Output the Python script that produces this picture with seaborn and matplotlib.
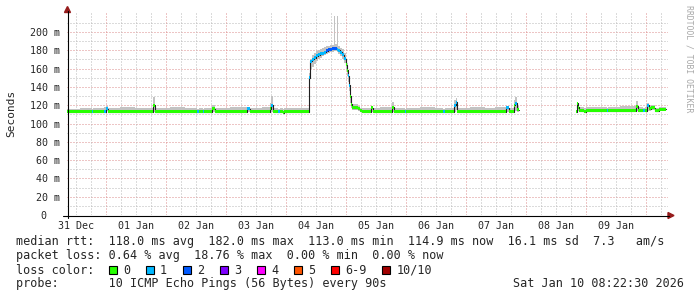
import numpy as np
import pandas as pd
import matplotlib
matplotlib.use("Agg")
import matplotlib.pyplot as plt
import seaborn as sns
from matplotlib.patches import Rectangle, Polygon
from matplotlib.lines import Line2D
from matplotlib.transforms import ScaledTranslation

# ---------------- data ----------------
# step start, hours after 2025-12-31 08:22:30 (graph start); each value holds until the next start
step_start_h = [
    0.0, 5.2, 10.0, 10.4, 14.8, 15.6, 16.4, 21.2, 27.2, 33.2, 34.4, 35.2, 41.2, 47.2,
    52.0, 52.8, 54.4, 54.8, 58.0, 59.2, 65.2, 72.0, 73.2, 78.0, 81.2, 81.6, 82.4, 84.4,
    85.2, 86.4, 86.8, 91.2,
    96.8, 97.2, 98.0, 98.8, 99.6, 100.4, 101.2, 102.0, 102.8, 103.6, 104.4, 105.2, 106.0,
    106.8, 107.2, 108.0, 108.4, 109.2, 110.0, 110.8, 111.6, 112.0, 112.4, 112.8, 113.2,
    113.6, 114.0, 116.4, 117.2, 118.0,
    121.6, 122.4, 125.2, 130.0, 130.8, 135.2, 135.6, 141.2, 147.2, 150.4, 151.2, 154.8,
    155.6, 156.0, 161.2, 167.2, 171.2, 175.6, 176.8, 178.8, 179.2, 180.0, 180.8,
    203.6, 204.0, 204.4, 204.8, 206.8, 207.6, 213.2, 216.0, 216.4, 221.2, 227.6, 228.4,
    230.4, 231.2, 232.0, 232.8, 233.6, 235.2, 236.8, 239.6,
]
median_ms = [
    113, 113, 113, 113, 113, 116, 113, 113, 113, 113, 120, 113, 113, 113,
    113, 113, 113, 113, 116, 113, 113, 116, 113, 113, 116, 120, 113, 113,
    113, 112, 113, 113,
    150, 168, 170, 172, 174, 175, 176, 177, 178, 179.5, 180.5, 181, 181.5,
    182, 182, 181, 180, 178, 175, 171, 164, 158, 152, 142, 130,
    121, 117, 116, 114, 113,
    117, 113, 113, 118, 113, 113, 113, 113, 113, 113, 113, 120,
    123, 113, 113, 113, 113, 117, 113, 120, 122, 115, np.nan,
    113, 122, 118, 114, 113, 114, 114, 114, 114, 114, 119, 114,
    114.5, 114, 120, 116, 117.5, 114, 115.5, np.nan,
]
smoke_lo_ms = [
    113, 113, 113, 113, 113, 114, 113, 113, 113, 113, 113, 113, 113, 113,
    113, 113, 113, 113, 113, 113, 113, 113, 113, 113, 113, 113, 113, 113,
    113, 112, 113, 113,
    142, 160, 162, 165, 168, 170, 172, 174, 175, 176, 177, 178, 178,
    179, 179, 178, 176, 174, 170, 166, 158, 152, 145, 135, 122,
    117, 115, 114, 113, 113,
    113, 113, 113, 113, 113, 113, 113, 113, 113, 113, 113, 113,
    115, 113, 113, 113, 113, 113, 113, 113, 114, 113, np.nan,
    113, 114, 114, 114, 113, 114, 114, 114, 114, 114, 114, 114,
    114, 114, 114, 114, 115, 114, 115, np.nan,
]
smoke_hi_ms = [
    116, 117.5, 116, 117, 118, 119, 117, 118, 116.5, 117.5, 129, 117, 118, 116.5,
    116, 117, 116, 117.5, 120, 117, 118, 118.5, 117, 118, 122, 130, 117, 116,
    117, 116, 117, 117.5,
    155, 171, 175, 177, 179, 180, 181, 182, 184, 185, 185, 186, 186,
    218, 187, 218, 185, 183, 181, 177, 171, 166, 159, 151, 139,
    126, 121, 119, 117, 117,
    119, 117, 118, 124, 117, 116, 117.5, 118, 117, 116, 117, 126,
    128, 117, 118, 117, 118.5, 119, 117, 126, 129, 119, np.nan,
    114, 123, 121, 118, 117, 118, 118.5, 117, 118, 119, 125, 118,
    117, 118, 122, 119, 120, 117, 118, np.nan,
]
loss_level = [
    0, 0, 1, 0, 1, 1, 0, 0, 0, 0, 0, 0, 0, 0,
    1, 0, 1, 0, 0, 0, 0, 1, 0, 0, 0, 1, 0, 1,
    0, 0, 0, 0,
    1, 1, 1, 1, 1, 1, 1, 1, 1, 2, 2, 2, 2,
    2, 2, 1, 1, 1, 1, 1, 0, 0, 1, 1, 0,
    0, 0, 0, 0, 0,
    0, 0, 0, 0, 0, 1, 0, 0, 0, 1, 0, 1,
    1, 0, 0, 0, 0, 1, 0, 0, 1, 0, -1,
    0, 0, 0, 0, 0, 0, 0, 1, 0, 0, 0, 0,
    1, 0, 1, 0, 0, 0, 0, -1,
]

y_tick_values = [0, 20, 40, 60, 80, 100, 120, 140, 160, 180, 200]
y_tick_labels = ["0", "20 m", "40 m", "60 m", "80 m", "100 m", "120 m", "140 m",
                 "160 m", "180 m", "200 m"]
x_tick_labels = ["31 Dec", "01 Jan", "02 Jan", "03 Jan", "04 Jan", "05 Jan",
                 "06 Jan", "07 Jan", "08 Jan", "09 Jan"]
graph_start = pd.Timestamp("2025-12-31 08:22:30")
label_days = pd.date_range("2025-12-31 12:00", periods=10, freq="D")
midnights = pd.date_range("2026-01-01 00:00", periods=10, freq="D")

loss_names = ["0", "1", "2", "3", "4", "5", "6-9", "10/10"]
loss_colors = ["#26ff00", "#00b8ff", "#0059ff", "#7e00ff", "#ff00ff", "#ff5500",
               "#ff0000", "#a10000"]

rtt_stats = ["118.0 ms avg", "182.0 ms max", "113.0 ms min", "114.9 ms now",
             "16.1 ms sd", "7.3   am/s"]
loss_stats = ["0.64 % avg", "18.76 % max", "0.00 % min", "0.00 % now"]
probe_text = "10 ICMP Echo Pings (56 Bytes) every 90s"
stamp_text = "Sat Jan 10 08:22:30 2026"

# ---------------- helpers ----------------
df = pd.DataFrame({"h": step_start_h, "ms": median_ms, "lo": smoke_lo_ms,
                   "hi": smoke_hi_ms, "loss": loss_level})
df["h_end"] = df["h"].shift(-1)


def step_runs(mask):
    """Long table of step points for contiguous runs where mask is True."""
    rows = []
    run = 0
    prev = False
    for i, m in enumerate(mask):
        if m and not pd.isna(df.at[i, "h_end"]):
            if not prev:
                run += 1
            rows.append((run, df.at[i, "h"], df.at[i, "ms"], df.at[i, "lo"], df.at[i, "hi"]))
            nxt_in = (i + 1 < len(mask)) and mask[i + 1] and not pd.isna(df.at[i + 1, "h_end"])
            if not nxt_in:
                rows.append((run, df.at[i, "h_end"], df.at[i, "ms"], df.at[i, "lo"], df.at[i, "hi"]))
            prev = True
        else:
            prev = False
    return pd.DataFrame(rows, columns=["run", "h", "ms", "lo", "hi"])


valid = df["ms"].notna().tolist()
all_pts = step_runs(valid)

# ---------------- figure ----------------
sns.set_style("white")
plt.rcParams["font.family"] = ["DejaVu Sans Mono", "DejaVu Sans"]

W, H = 697, 297
fig = plt.figure(figsize=(W / 100, H / 100), dpi=100)
fig.patch.set_facecolor("white")


def fx(px):
    return px / W


def fy(py):
    return 1 - py / H


ax = fig.add_axes([fx(67), fy(215), 601 / W, 202 / H])
ax.set_facecolor("white")
for s in ax.spines.values():
    s.set_visible(False)
ax.set_xlim(0, 240.4)
ax.set_ylim(0, 220.8)

# grid (dotted)
dot = (0, (1, 2))
minor_col = "#b8b8b8"
major_col = "#dc8c8c"
for v in range(10, 220, 10):
    ax.axhline(v, color=major_col if v % 20 == 0 else minor_col, lw=0.72, ls=dot,
               zorder=0)
mid_h = [(m - graph_start) / pd.Timedelta(hours=1) for m in midnights]
lab_h = [(d - graph_start) / pd.Timedelta(hours=1) for d in label_days]
for k in range(0, 45):
    hh = lab_h[0] + 6 * k
    if hh > 240.4:
        break
    if any(abs(hh - m) < 1e-6 for m in mid_h):
        continue
    ax.axvline(hh, color=minor_col, lw=0.72, ls=dot, zorder=0)
for m in mid_h:
    if m < 240.4:
        ax.axvline(m, color=major_col, lw=0.72, ls=dot, zorder=0)

# smoke
for r, g in all_pts.groupby("run"):
    ax.fill_between(g["h"], g["lo"], g["hi"], step="post", color="#c2c2c2",
                    lw=0, zorder=1)

# black median line
sns.lineplot(data=all_pts, x="h", y="ms", units="run", estimator=None, sort=False,
             drawstyle="steps-post", color="#202020", lw=0.8, ax=ax, legend=False,
             zorder=2)

# coloured median bands by loss level (horizontal bars per step only)
half = 1.65
for lvl, col in enumerate(loss_colors):
    mask = [(v and l == lvl) for v, l in zip(valid, loss_level)]
    if not any(mask):
        continue
    pts = step_runs(mask)
    for r, g in pts.groupby("run"):
        ax.fill_between(g["h"], g["ms"] - half, g["ms"] + half, step="post",
                        color=col, lw=0, zorder=3)

ax.set_xlabel("")
ax.set_ylabel("")

# ticks
ax.set_yticks(y_tick_values)
ax.set_yticklabels(y_tick_labels, fontsize=7.2)
ax.set_xticks(lab_h)
ax.set_xticklabels(x_tick_labels, fontsize=7.2)
ax.tick_params(axis="y", length=0, pad=5)
ax.tick_params(axis="x", length=0, pad=4)
zero_lab = ax.get_yticklabels()[0]
zero_lab.set_transform(zero_lab.get_transform() +
                       ScaledTranslation(-0.14, 0, fig.dpi_scale_trans))

# axes lines and arrows
arrow_col = "#961c1c"
fig.add_artist(Line2D([fx(67.5), fx(67.5)], [fy(218), fy(11)], color="black", lw=0.8))
fig.add_artist(Line2D([fx(63), fx(669)], [fy(215.5), fy(215.5)], color="black", lw=0.8))
fig.add_artist(Polygon([[fx(67.5), fy(6.5)], [fx(64.5), fy(12.5)], [fx(70.5), fy(12.5)]],
                       closed=True, transform=fig.transFigure, color=arrow_col))
fig.add_artist(Polygon([[fx(674), fy(215.5)], [fx(668), fy(212.5)], [fx(668), fy(218.5)]],
                       closed=True, transform=fig.transFigure, color=arrow_col))

# y label & watermark
fig.text(fx(11), fy(113.5), "Seconds", rotation=90, ha="center", va="center", fontsize=8)
fig.text(fx(688.5), fy(59), "RRDTOOL / TOBI OETIKER", rotation=270, ha="center",
         va="center", fontsize=5.9, color="#a8a8a8")

# legend block
LF = 8.5
x0 = 15.5
row1 = "median rtt:  " + "  ".join(rtt_stats)
row2 = "packet loss: " + "  ".join(loss_stats)
fig.text(fx(x0), fy(245.3), row1, fontsize=LF, va="baseline", ha="left")
fig.text(fx(x0), fy(259.3), row2, fontsize=LF, va="baseline", ha="left")
fig.text(fx(x0), fy(273.5), "loss color:", fontsize=LF, va="baseline", ha="left")
fig.text(fx(x0), fy(287.3), "probe:       " + probe_text, fontsize=LF, va="baseline",
         ha="left")
fig.text(fx(513.2), fy(287.3), stamp_text, fontsize=LF, va="baseline", ha="left")

bx = 108.5
for name, col in zip(loss_names, loss_colors):
    fig.add_artist(Rectangle((fx(bx), fy(273.5)), 8 / W, 8 / H, transform=fig.transFigure,
                             facecolor=col, edgecolor="black", lw=0.8))
    fig.text(fx(bx + 14.5), fy(273.5), name, fontsize=LF, va="baseline", ha="left")
    bx += len(name) * 7.1 + 30

fig.savefig("out.png", dpi=100, facecolor="white")
